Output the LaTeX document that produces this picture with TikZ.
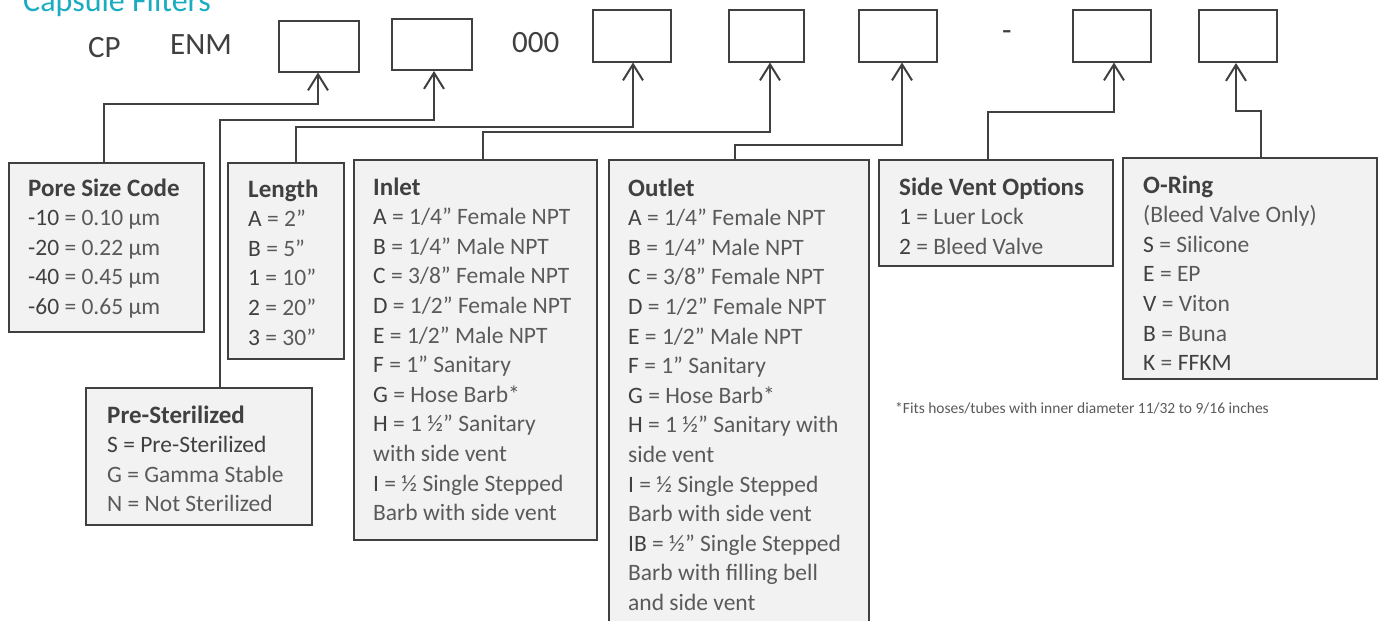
\documentclass[tikz,border=0pt]{standalone}
\usepackage{fontspec}
\setmainfont{Carlito}
\usetikzlibrary{arrows.meta}
\definecolor{linec}{HTML}{404040}
\definecolor{darktxt}{HTML}{404040}
\definecolor{lighttxt}{HTML}{5A5A5A}
\definecolor{boxfill}{HTML}{F2F2F2}
\definecolor{tealtitle}{HTML}{1AACC0}
\newcommand\cd[1]{{\color{darktxt}#1}}
\begin{document}
\begin{tikzpicture}[x=1pt,y=-1pt,
 slot/.style={draw=linec, line width=2pt, fill=white, inner sep=0, minimum height=52pt},
 info/.style={draw=linec, line width=2pt, fill=boxfill, inner sep=0},
 conn/.style={draw=linec, line width=2pt, -{Straight Barb[length=16pt,width=20pt,line width=2pt]}},
 head/.style={anchor=base west, inner sep=0, font=\fontsize{25}{29}\selectfont\bfseries, text=darktxt},
 entry/.style={anchor=base west, inner sep=0, font=\fontsize{23.5}{27}\selectfont, text=lighttxt},
 big/.style={anchor=base west, inner sep=0, font=\fontsize{31}{36}\selectfont, text=darktxt}]
\clip (0,0) rectangle (1382,621);
\fill[white] (0,0) rectangle (1382,621);

% title and code parts
\node[anchor=base west, inner sep=0, font=\fontsize{32}{36}\selectfont, text=tealtitle] (title) at (23,12) {Capsule Filters};
\node[big] (cp) at (88,57) {CP};
\node[big] (enm) at (170,54) {ENM};
\node[big] (zeros) at (512,52) {000};
\node[big] (dash) at (1002,40) {-};

% slot boxes
\node[slot, minimum width=80pt, minimum height=51pt] (b1) at (319,46) {};
\node[slot, minimum width=80pt, minimum height=51pt] (b2) at (432,44.5) {};
\node[slot, minimum width=78pt] (b3) at (632,35.5) {};
\node[slot, minimum width=75pt] (b4) at (766.5,35.5) {};
\node[slot, minimum width=78pt] (b5) at (898,35.5) {};
\node[slot, minimum width=78pt] (b6) at (1112,35.5) {};
\node[slot, minimum width=78pt] (b7) at (1238,36) {};

% info boxes
\node[info, minimum width=195pt, minimum height=169pt] (pore) at (106.5,247.5) {};
\node[info, minimum width=116pt, minimum height=196pt] (len) at (286,261) {};
\node[info, minimum width=243pt, minimum height=380pt] (inlet) at (475.5,350) {};
\node[info, minimum width=260pt, minimum height=480pt] (outlet) at (739,400) {};
\node[info, minimum width=234pt, minimum height=106pt] (vent) at (996,213) {};
\node[info, minimum width=254pt, minimum height=221pt] (oring) at (1250,268.5) {};
\node[info, minimum width=226pt, minimum height=137pt] (pre) at (199,456.5) {};

% texts
\node[head] (poreh) at (28,196) {Pore Size Code};
\foreach \t [count=\i] in {\cd{-10} = 0.10 µm, \cd{-20} = 0.22 µm, \cd{-40} = 0.45 µm, \cd{-60} = 0.65 µm}
  \node[entry] (pore\i) at (28,{196+29.6*\i}) {\t};

\node[head] (lenh) at (248,197) {Length};
\foreach \t [count=\i] in {\cd{A} = 2”, \cd{B} = 5”, \cd{1} = 10”, \cd{2} = 20”, \cd{3} = 30”}
  \node[entry] (len\i) at (248,{197+29.6*\i}) {\t};

\node[head] (inleth) at (373,195) {Inlet};
\foreach \t [count=\i] in {\cd{A} = 1/4” Female NPT, \cd{B} = 1/4” Male NPT, \cd{C} = 3/8” Female NPT, \cd{D} = 1/2” Female NPT, \cd{E} = 1/2” Male NPT, \cd{F} = 1” Sanitary, \cd{G} = Hose Barb*, \cd{H} = 1 ½” Sanitary, with side vent, \cd{I} = ½ Single Stepped, Barb with side vent}
  \node[entry] (inlet\i) at (373,{195+29.6*\i}) {\t};

\node[head] (outleth) at (628,196) {Outlet};
\foreach \t [count=\i] in {\cd{A} = 1/4” Female NPT, \cd{B} = 1/4” Male NPT, \cd{C} = 3/8” Female NPT, \cd{D} = 1/2” Female NPT, \cd{E} = 1/2” Male NPT, \cd{F} = 1” Sanitary, \cd{G} = Hose Barb*, \cd{H} = 1 ½” Sanitary with, side vent, \cd{I} = ½ Single Stepped, Barb with side vent, \cd{IB} = ½” Single Stepped, Barb with filling bell, and side vent}
  \node[entry] (outlet\i) at (628,{196+29.6*\i}) {\t};

\node[head] (venth) at (899,195) {Side Vent Options};
\foreach \t [count=\i] in {\cd{1} = Luer Lock, \cd{2} = Bleed Valve}
  \node[entry] (vent\i) at (899,{195+29.6*\i}) {\t};

\node[head] (oringh) at (1143,193) {O-Ring};
\foreach \t [count=\i] in {(Bleed Valve Only), \cd{S} = Silicone, \cd{E} = EP, \cd{V} = Viton, \cd{B} = Buna, \cd{K} = \cd{FFKM}}
  \node[entry] (oring\i) at (1143,{193+29.6*\i}) {\t};

\node[head] (preh) at (107,423) {Pre-Sterilized};
\foreach \t [count=\i] in {\cd{S = Pre-Sterilized}, G = Gamma Stable, N = Not Sterilized}
  \node[entry] (pre\i) at (107,{423+29.6*\i}) {\t};

\node[anchor=base west, inner sep=0, font=\fontsize{15.5}{18}\selectfont, text=lighttxt] (note) at (895,413) {*Fits hoses/tubes with inner diameter 11/32 to 9/16 inches};

% connectors
\draw[conn] ([xshift=-2.5pt]pore.north) |- (318,104) -- ([xshift=-1pt]b1.south);
\draw[conn] ([xshift=21pt]pre.north) |- (434,120) -- ([xshift=2pt]b2.south);
\draw[conn] ([xshift=10pt]len.north) |- (633,127) -- ([xshift=1pt]b3.south);
\draw[conn] ([xshift=7.5pt]inlet.north) |- (770,132) -- ([xshift=3.5pt]b4.south);
\draw[conn] ([xshift=-4pt]outlet.north) |- (902,145) -- ([xshift=4pt]b5.south);
\draw[conn] ([xshift=-8pt]vent.north) |- (1114,112) -- ([xshift=2pt]b6.south);
\draw[conn] ([xshift=11pt]oring.north) |- (1236,111) -- ([xshift=-2pt]b7.south);
\end{tikzpicture}
\end{document}
